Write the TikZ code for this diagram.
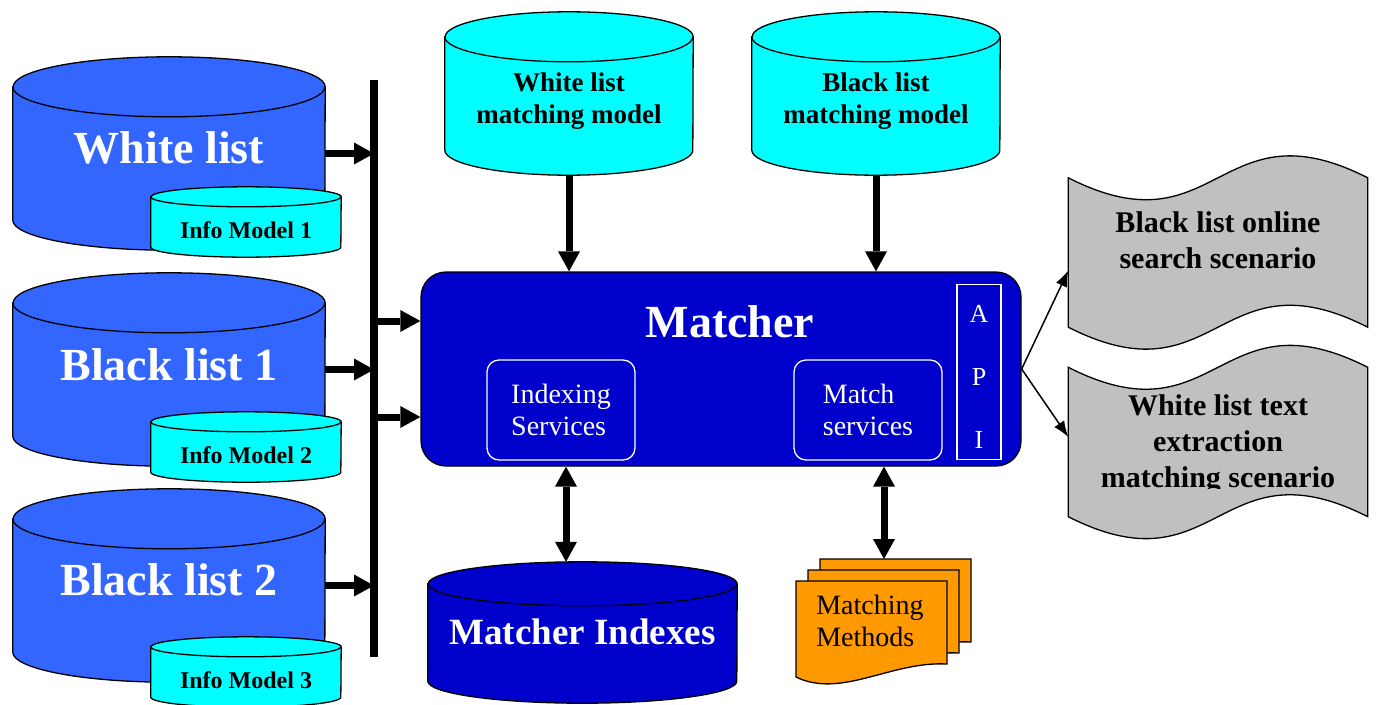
\documentclass[tikz,border=0pt]{standalone}
\usepackage{fontspec}
\setmainfont{Liberation Serif}
\usetikzlibrary{arrows.meta}
\definecolor{listblue}{HTML}{3366FF}
\definecolor{modelcyan}{HTML}{00FFFF}
\definecolor{matchblue}{HTML}{0000CC}
\definecolor{methodorange}{HTML}{FF9900}
\definecolor{tapegray}{HTML}{C0C0C0}
\tikzset{outline/.style={draw, line width=1.3pt},
  bigtxt/.style={text=white, font=\bfseries\fontsize{46}{50}\selectfont},
  infotxt/.style={font=\bfseries\fontsize{24}{28}\selectfont},
  modeltxt/.style={align=center, font=\bfseries\fontsize{27}{32}\selectfont},
  fat/.style={line width=7pt, -{Triangle[length=20pt,width=22pt,line width=0pt]}},
  fatboth/.style={line width=7pt, {Triangle[length=20pt,width=22pt,line width=0pt]}-{Triangle[length=20pt,width=22pt,line width=0pt]}},
  thin/.style={line width=1.5pt, -{Latex[length=16pt,width=12pt]}},
  svc/.style={draw=white, line width=1.3pt, rounded corners=12pt, minimum width=148pt,
    minimum height=100pt, align=left, text=white, font=\fontsize{28}{32}\selectfont},
  scentext/.style={align=center, font=\bfseries\fontsize{30}{36}\selectfont},
  page/.style={outline, fill=methodorange}}
% name, x, y, width, height, cap radius, colour
\newcommand{\drum}[7]{%
  \node[minimum width=#4pt, minimum height=#5pt, inner sep=0pt] (#1) at (#2,#3) {};
  \draw[outline, fill=#7] ([yshift=-#6pt]#1.north west) -- ([yshift=#6pt]#1.south west)
    arc[start angle=180, end angle=360, x radius=#4pt/2, y radius=#6pt]
    -- ([yshift=-#6pt]#1.north east)
    arc[start angle=0, end angle=180, x radius=#4pt/2, y radius=#6pt] -- cycle;
  \draw[outline] ([yshift=-#6pt]#1.north west)
    arc[start angle=180, end angle=360, x radius=#4pt/2, y radius=#6pt];}
% name, x, y
\newcommand{\punchtape}[3]{%
  \node[minimum width=299pt, minimum height=149pt, inner sep=0pt] (#1) at (#2,#3) {};
  \draw[outline, fill=tapegray] (#1.north west) .. controls +(149.5,76) and +(-149.5,-76) .. (#1.north east)
    -- (#1.south east) .. controls +(-149.5,-76) and +(149.5,76) .. (#1.south west) -- cycle;}

\begin{document}
\begin{tikzpicture}[x=1pt, y=-1pt]
  \useasboundingbox (0,0) rectangle (1378,704);

  \drum{wl}{169}{153.5}{312}{193}{30}{listblue}
  \drum{im1}{246}{222}{190}{70}{10}{modelcyan}
  \drum{bl1}{169}{369.5}{312}{193}{30}{listblue}
  \drum{im2}{246}{447}{190}{70}{10}{modelcyan}
  \drum{bl2}{169}{585.5}{312}{193}{30}{listblue}
  \drum{im3}{246}{672}{190}{70}{10}{modelcyan}
  \node[bigtxt] (wlt) at (169,148) {White list};
  \node[bigtxt] (bl1t) at (169,365) {Black list 1};
  \node[bigtxt] (bl2t) at (169,580) {Black list 2};
  \node[infotxt] (im1t) at (246,230) {Info Model 1};
  \node[infotxt] (im2t) at (246,455) {Info Model 2};
  \node[infotxt] (im3t) at (246,680) {Info Model 3};

  \coordinate (bust) at (374,80);
  \coordinate (busb) at (374,657);
  \draw[line width=8pt] (bust) -- (busb);
  \draw[fat] (wl.east) -- (wl.east -| bust);
  \draw[fat] (bl1.east) -- (bl1.east -| bust);
  \draw[fat] (bl2.east) -- (bl2.east -| bust);

  \drum{wlm}{569}{93.5}{248}{163}{25}{modelcyan}
  \drum{blm}{876}{93.5}{248}{163}{25}{modelcyan}
  \node[modeltxt] (wlmt) at (569,101) {White list\\matching model};
  \node[modeltxt] (blmt) at (876,101) {Black list\\matching model};

  \node[outline, fill=matchblue, rounded corners=25pt,
    minimum width=600pt, minimum height=194pt] (matcher) at (721,369) {};
  \node[bigtxt] (mtitle) at (730,322) {Matcher};
  \node[svc] (isv) at (561,410) {Indexing\\Services};
  \node[svc] (msv) at (868,410) {Match\\services};
  \node[draw=white, line width=1.3pt, minimum width=44pt, minimum height=175pt, align=center,
    text=white, font=\fontsize{26}{63}\selectfont] (api) at (979,372) {\rule{0pt}{27pt}A\\P\\I};

  \draw[fat] (wlm.south) -- (wlm.south |- matcher.north);
  \draw[fat] (blm.south) -- (blm.south |- matcher.north);
  \draw[fat] ([yshift=48pt]matcher.west -| bust) -- ([yshift=48pt]matcher.west);
  \draw[fat] ([yshift=-48pt]matcher.west -| bust) -- ([yshift=-48pt]matcher.west);

  \drum{mi}{582.5}{632.5}{309}{141}{22}{matchblue}
  \node[text=white, font=\bfseries\fontsize{37}{40}\selectfont] (mit) at (582.5,632) {Matcher Indexes};
  \draw[fatboth] ([xshift=5pt]isv.south |- matcher.south) -- ([xshift=5pt]isv.south |- mi.north);

  \foreach \dx/\dy in {24/-22,12/-11,0/0}
    \draw[page, shift={(\dx,\dy)}] (796,581) -- (947,581) -- (947,664)
      .. controls (891,661) and (841,699) .. (796,677) -- cycle;
  \coordinate (mmtop) at (884,559);
  \node[align=left, font=\fontsize{28}{32}\selectfont] (mm) at (870,621) {Matching\\Methods};
  \draw[fatboth] (mmtop |- matcher.south) -- (mmtop);

  \punchtape{bos}{1218}{252.5}
  \node[scentext] (bost) at (1218,240) {Black list online\\search scenario};
  \punchtape{wos}{1218}{442}
  \begin{scope}
    \clip (1060,360) rectangle (1378,488);
    \node[scentext] (wost) at (1218,444) {White list text\\extraction\\matching scenario};
  \end{scope}
  \draw[thin] (matcher.east) -- ([yshift=-18pt]bos.west);
  \draw[thin] (matcher.east) -- ([yshift=5pt]wos.west);
\end{tikzpicture}
\end{document}
